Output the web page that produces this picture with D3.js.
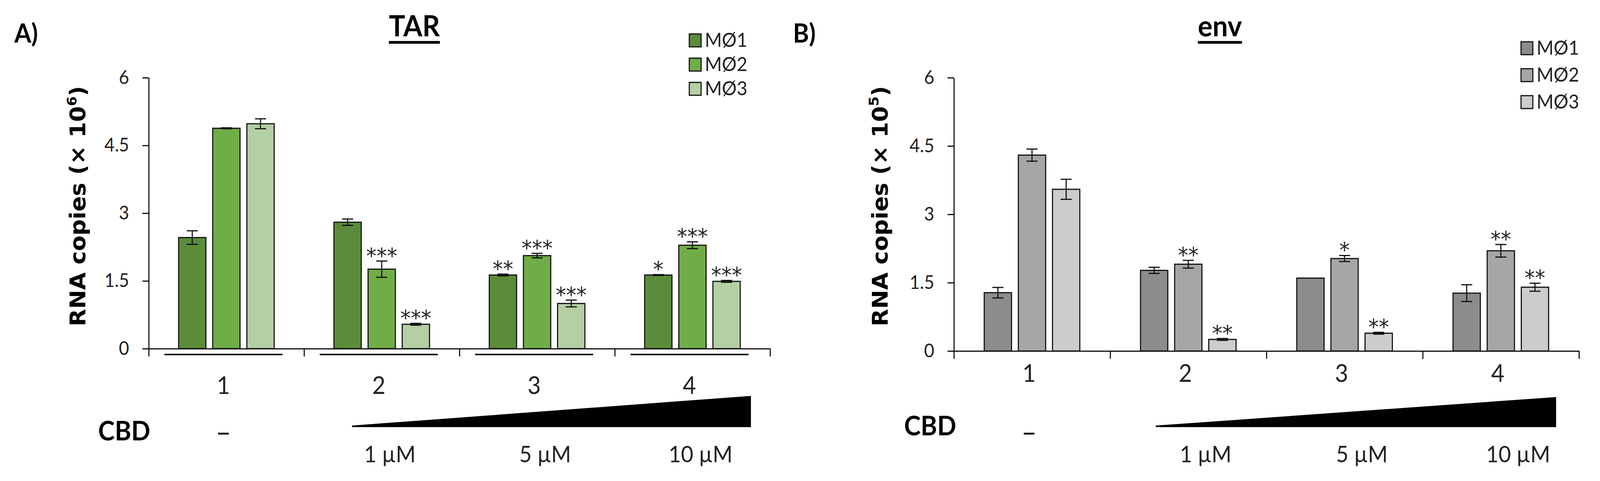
<!DOCTYPE html>
<html lang="en">
<head>
<meta charset="UTF-8">
<title>TAR and env RNA copies</title>
<style>
  html, body { margin: 0; padding: 0; background: #fff; overflow: hidden; }
  svg { display: block; }
</style>
</head>
<body>
<script src="https://cdn.jsdelivr.net/npm/d3@7/dist/d3.min.js"></script>
<script>
// ---- data ----
var groups = ['1', '2', '3', '4'];
var seriesNames = ['MØ1', 'MØ2', 'MØ3'];
var yTicks = [0, 1.5, 3, 4.5, 6];
var doses = ['–', '1 µM', '5 µM', '10 µM'];

// A) TAR, RNA copies x 10^6
var tarMO1 = [2.46, 2.80, 1.63, 1.63];
var tarMO2 = [4.88, 1.76, 2.06, 2.29];
var tarMO3 = [4.98, 0.54, 1.00, 1.49];
var tarErrMO1 = [0.15, 0.07, 0.02, 0.01];
var tarErrMO2 = [0.01, 0.18, 0.05, 0.075];
var tarErrMO3 = [0.11, 0.02, 0.075, 0.02];
var tarStarsMO1 = ['', '', '**', '*'];
var tarStarsMO2 = ['', '***', '***', '***'];
var tarStarsMO3 = ['', '***', '***', '***'];

// B) env, RNA copies x 10^5
var envMO1 = [1.28, 1.77, 1.60, 1.27];
var envMO2 = [4.30, 1.905, 2.03, 2.20];
var envMO3 = [3.55, 0.254, 0.39, 1.40];
var envErrMO1 = [0.115, 0.067, 0, 0.184];
var envErrMO2 = [0.133, 0.085, 0.066, 0.138];
var envErrMO3 = [0.22, 0.02, 0.02, 0.088];
var envStarsMO1 = ['', '', '', ''];
var envStarsMO2 = ['', '**', '*', '**'];
var envStarsMO3 = ['', '**', '**', '**'];

// ---- layout ----
var width = 4336, height = 1232;
var narrow = "Lato, 'DejaVu Sans Condensed', sans-serif";
var wide = "'DejaVu Sans', sans-serif";

var panels = [
    {
        label: 'A)', title: 'TAR', exp: '6',
        values: [tarMO1, tarMO2, tarMO3],
        errs: [tarErrMO1, tarErrMO2, tarErrMO3],
        stars: [tarStarsMO1, tarStarsMO2, tarStarsMO3],
        colors: ['#5b8c3a', '#70ad47', '#b5cfa5'],
        left: 403, right: 2087, zero: 893, top: 199,
        labelX: 39, titleX: 1123, yTitleX: 231,
        legendX: 1868, legendY: 87, legendStep: 62,
        catBaseline: 1009, groupLines: true,
        cbdX: 266, cbdBaseline: 1128,
        wedge: [954, 2035, 1014, 1094], doseShift: 22
    },
    {
        label: 'B)', title: 'env', exp: '5',
        values: [envMO1, envMO2, envMO3],
        errs: [envErrMO1, envErrMO2, envErrMO3],
        stars: [envStarsMO1, envStarsMO2, envStarsMO3],
        colors: ['#8c8c8c', '#a6a6a6', '#cccccc'],
        left: 2585, right: 4279, zero: 899, top: 199,
        labelX: 2149, titleX: 3306, yTitleX: 2405,
        legendX: 4122, legendY: 107, legendStep: 69,
        catBaseline: 978, groupLines: false,
        cbdX: 2450, cbdBaseline: 1115,
        wedge: [3132, 4217, 1017, 1094], doseShift: 47
    }
];

// the drawing is laid out on a 4336 x 1232 grid and stretched to the window
var svg = d3.select('body').append('svg')
            .attr('viewBox', '0 0 ' + width + ' ' + height)
            .attr('preserveAspectRatio', 'none')
            .style('width', '100vw')
            .style('height', '100vh')
            .style('background', '#fff');

function drawPanel(p) {
    var g = svg.append('g');
    var y = d3.scaleLinear().domain([0, 6]).range([p.zero, p.top]);
    var x = d3.scaleBand().domain(groups).range([p.left, p.right]);
    var bounds = d3.scaleLinear().domain([0, groups.length]).range([p.left, p.right]);
    var half = 129.5;
    var xs = d3.scaleBand().domain(seriesNames).range([-half, half]).paddingInner(0.2);
    var center = function(grp) { return x(grp) + x.bandwidth() / 2; };

    // bars, error bars, significance stars
    seriesNames.forEach(function(s, i) {
        var rows = groups.map(function(grp, j) {
            return { grp: grp, v: p.values[i][j], e: p.errs[i][j], star: p.stars[i][j] };
        });
        var cx = function(d) { return center(d.grp) + xs(s) + xs.bandwidth() / 2; };

        g.selectAll(null).data(rows).enter().append('rect')
         .attr('x', function(d) { return center(d.grp) + xs(s); })
         .attr('y', function(d) { return y(d.v); })
         .attr('width', xs.bandwidth())
         .attr('height', function(d) { return y(0) - y(d.v); })
         .attr('fill', p.colors[i])
         .attr('stroke', '#111')
         .attr('stroke-width', 3);

        var eb = g.selectAll(null).data(rows.filter(function(d) { return d.e > 0; }))
                  .enter().append('g')
                  .attr('stroke', '#111')
                  .attr('stroke-width', 3);
        eb.append('line')
          .attr('x1', cx).attr('x2', cx)
          .attr('y1', function(d) { return y(d.v - d.e); })
          .attr('y2', function(d) { return y(d.v + d.e); });
        [-1, 1].forEach(function(sign) {
            eb.append('line')
              .attr('x1', function(d) { return cx(d) - 15; })
              .attr('x2', function(d) { return cx(d) + 15; })
              .attr('y1', function(d) { return y(d.v + sign * d.e); })
              .attr('y2', function(d) { return y(d.v + sign * d.e); });
        });

        g.selectAll(null).data(rows.filter(function(d) { return d.star; }))
         .enter().append('text')
         .attr('x', cx)
         .attr('y', function(d) { return y(d.v + d.e) + 6; })
         .attr('text-anchor', 'middle')
         .style('font-family', wide)
         .style('font-size', '56px')
         .attr('fill', '#222')
         .text(function(d) { return d.star; });
    });

    // y axis
    var yAxis = d3.axisLeft(y).tickValues(yTicks).tickSize(17).tickSizeOuter(0)
                  .tickPadding(36).tickFormat(function(d) { return d; });
    var ya = g.append('g')
              .attr('transform', 'translate(' + p.left + ',0)')
              .call(yAxis);
    ya.selectAll('text').style('font-family', narrow).style('font-size', '48px').attr('fill', '#222');

    // x axis with group boundary ticks
    var xAxis = d3.axisBottom(bounds).tickValues(d3.range(groups.length + 1))
                  .tickSize(20).tickSizeOuter(0).tickFormat('');
    g.append('g')
     .attr('transform', 'translate(0,' + p.zero + ')')
     .call(xAxis);

    g.selectAll('.domain, .tick line').attr('stroke', '#111').attr('stroke-width', 3);

    if (p.groupLines) {
        g.selectAll(null).data(groups).enter().append('line')
         .attr('x1', function(d) { return center(d) - 168; })
         .attr('x2', function(d) { return center(d) + 152; })
         .attr('y1', p.zero + 15).attr('y2', p.zero + 15)
         .attr('stroke', '#111').attr('stroke-width', 4);
    }

    g.selectAll(null).data(groups).enter().append('text')
     .attr('x', function(d) { return center(d) - 8; })
     .attr('y', p.catBaseline)
     .attr('text-anchor', 'middle')
     .style('font-family', narrow)
     .style('font-size', '62px')
     .attr('fill', '#222')
     .text(function(d) { return d; });

    // y axis title
    var yt = g.append('text')
              .attr('transform', 'translate(' + p.yTitleX + ',' + 528 + ') rotate(-90)')
              .attr('text-anchor', 'middle')
              .style('font-family', wide)
              .style('font-weight', 'bold')
              .style('font-size', '58px');
    yt.append('tspan').text('RNA copies (× 10');
    yt.append('tspan').attr('dy', -24).style('font-size', '36px').text(p.exp);
    yt.append('tspan').attr('dy', 24).text(')');

    // panel letter and title
    g.append('text')
     .attr('x', p.labelX).attr('y', 109)
     .style('font-family', narrow).style('font-weight', 'bold').style('font-size', '66px')
     .text(p.label);
    var title = g.append('text')
                 .attr('x', p.titleX).attr('y', 93)
                 .attr('text-anchor', 'middle')
                 .style('font-family', narrow).style('font-weight', 'bold').style('font-size', '74px')
                 .text(p.title);
    var tw = title.node().getComputedTextLength();
    g.append('rect')
     .attr('x', p.titleX - tw / 2).attr('y', 105)
     .attr('width', tw).attr('height', 7)
     .attr('fill', '#000');

    // legend
    var lg = g.selectAll(null).data(seriesNames).enter().append('g')
              .attr('transform', function(d, i) {
                  return 'translate(' + p.legendX + ',' + (p.legendY + i * p.legendStep) + ')';
              });
    lg.append('rect')
      .attr('width', 32).attr('height', 33)
      .attr('fill', function(d, i) { return p.colors[i]; })
      .attr('stroke', '#111').attr('stroke-width', 3);
    lg.append('text')
      .attr('x', 42).attr('y', 33)
      .style('font-family', narrow).style('font-size', '50px')
      .attr('fill', '#222')
      .text(function(d) { return d; });

    // CBD dose row
    g.append('text')
     .attr('x', p.cbdX).attr('y', p.cbdBaseline)
     .style('font-family', narrow).style('font-weight', 'bold').style('font-size', '68px')
     .text('CBD');
    g.append('text')
     .attr('x', center(groups[0]) - 8).attr('y', 1132)
     .attr('text-anchor', 'middle')
     .style('font-family', narrow).style('font-size', '72px')
     .text(doses[0]);

    var w = p.wedge;
    var path = d3.path();
    path.moveTo(w[0], w[3]);
    path.lineTo(w[0], w[3] - 4);
    path.lineTo(w[1], w[2]);
    path.lineTo(w[1], w[3]);
    path.closePath();
    g.append('path').attr('d', path.toString()).attr('fill', '#000');

    g.selectAll(null).data(groups.slice(1)).enter().append('text')
     .attr('x', function(d) { return center(d) + p.doseShift; })
     .attr('y', 1184)
     .attr('text-anchor', 'middle')
     .style('font-family', narrow)
     .style('font-size', '58px')
     .attr('fill', '#222')
     .text(function(d, i) { return doses[i + 1]; });
}

panels.forEach(drawPanel);
</script>
</body>
</html>
